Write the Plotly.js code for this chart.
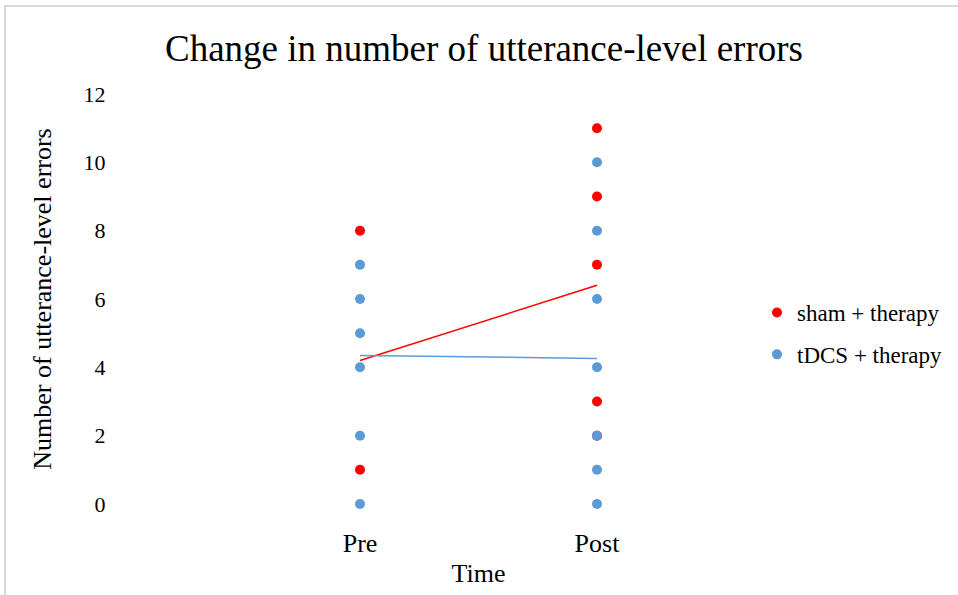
<!DOCTYPE html>
<html>
<head>
<meta charset="utf-8">
<script src="https://cdn.plot.ly/plotly-3.0.1.min.js"></script>
<style>
  html, body { margin: 0; padding: 0; background: #fff; }
  #wrap { position: relative; width: 958px; height: 595px; }
  #chart { width: 958px; height: 595px; }
  #frame { position: absolute; left: 4px; top: 5px; width: 960px; height: 600px;
           border-left: 2px solid #d9d9d9; border-top: 2px solid #d9d9d9; pointer-events: none; }
</style>
</head>
<body>
<div id="wrap"><div id="chart"></div><div id="frame"></div></div>
<script>
// Categories and their positions on the axis
const categories = ["Pre", "Post"];
const categoryPos = [1, 2];

// sham + therapy (red) points
const shamPreValues = [8, 1];
const shamPostValues = [11, 9, 7, 3, 2];
// tDCS + therapy (blue) points
const tdcsPreValues = [7, 6, 5, 4, 2, 0];
const tdcsPostValues = [10, 8, 6, 4, 2, 1, 0];

// Trend line values at Pre and Post
const shamTrend = [4.2, 6.4];
const tdcsTrend = [4.35, 4.26];

const yTicks = [0, 2, 4, 6, 8, 10, 12];

function pts(pre, post) {
  const x = [], y = [];
  pre.forEach(v => { x.push(categoryPos[0]); y.push(v); });
  post.forEach(v => { x.push(categoryPos[1]); y.push(v); });
  return {x, y};
}

const RED = "#FF0000", BLUE = "#5B9BD5";
const FONT = "Liberation Serif, Times New Roman, serif";

const sham = pts(shamPreValues, shamPostValues);
const tdcs = pts(tdcsPreValues, tdcsPostValues);

const traces = [
  { x: sham.x, y: sham.y, type: "scatter", mode: "markers", name: "sham + therapy",
    legendgroup: "a", cliponaxis: false, marker: { color: RED, size: 10 } },
  { x: tdcs.x, y: tdcs.y, type: "scatter", mode: "markers", name: "tDCS + therapy",
    legendgroup: "b", cliponaxis: false, marker: { color: BLUE, size: 10 } },
  { x: categoryPos, y: shamTrend, type: "scatter", mode: "lines", showlegend: false,
    cliponaxis: false, line: { color: RED, width: 1.5 }, hoverinfo: "skip" },
  { x: categoryPos, y: tdcsTrend, type: "scatter", mode: "lines", showlegend: false,
    cliponaxis: false, line: { color: BLUE, width: 1.5 }, hoverinfo: "skip" }
];

const layout = {
  width: 958, height: 595,
  margin: { l: 123, r: 124, t: 94, b: 91, pad: 0, autoexpand: false },
  paper_bgcolor: "#fff", plot_bgcolor: "#fff",
  font: { family: FONT, color: "#000", size: 22 },
  title: { text: "Change in number of utterance-level errors",
           font: { family: FONT, size: 37, color: "#000" },
           x: 484 / 958, xanchor: "center", xref: "container",
           y: 1 - 48 / 595, yanchor: "middle", yref: "container" },
  xaxis: {
    range: [0, 3], tickmode: "array", tickvals: categoryPos, ticktext: categories,
    showgrid: false, zeroline: false, showline: false,
    ticks: "outside", ticklen: 16, tickcolor: "rgba(0,0,0,0)",
    tickfont: { family: FONT, size: 26, color: "#000" },
    title: { text: "Time", font: { family: FONT, size: 26, color: "#000" }, standoff: 6 },
    fixedrange: true
  },
  yaxis: {
    range: [0, 12], tickmode: "array", tickvals: yTicks,
    showgrid: false, zeroline: false, showline: false,
    ticks: "outside", ticklen: 12, tickcolor: "rgba(0,0,0,0)",
    tickfont: { family: FONT, size: 22, color: "#000" },
    title: { text: "Number of utterance-level errors", font: { family: FONT, size: 26, color: "#000" }, standoff: 24 },
    fixedrange: true
  },
  showlegend: true,
  legend: {
    x: 0.8917, xanchor: "left", xref: "paper",
    y: 0.5195, yanchor: "top", yref: "paper",
    font: { family: FONT, size: 23, color: "#000" },
    bgcolor: "rgba(0,0,0,0)", borderwidth: 0,
    traceorder: "grouped", tracegroupgap: 9, itemclick: false
  }
};

Plotly.newPlot("chart", traces, layout, { displayModeBar: false, staticPlot: true });
</script>
</body>
</html>
